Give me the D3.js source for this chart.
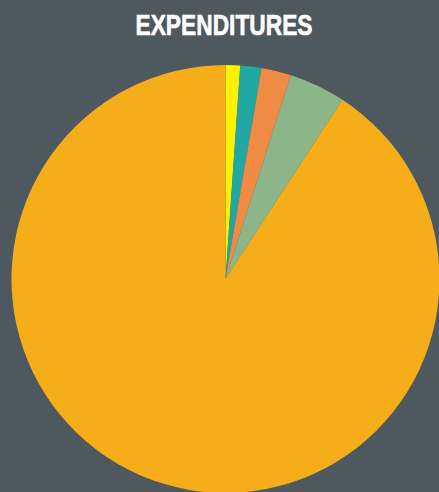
<!DOCTYPE html>
<html>
<head>
<meta charset="utf-8">
<script src="https://cdn.jsdelivr.net/npm/d3@7"></script>
<style>
  html, body { margin: 0; padding: 0; background: #4e585f; }
</style>
</head>
<body>
<div id="chart"></div>
<script>
/*------------------------------------------*/
/*            Data                          */
/*------------------------------------------*/

var categories = ["Yellow", "Teal", "Orange", "Green", "Main"],
    values = [1.1, 1.6, 2.25, 4.25, 90.8],
    colours = ["#fef100", "#22a8a2", "#f08b45", "#8cb58a", "#f5ae1a"];

var title = "EXPENDITURES";

/*------------------------------------------*/
/*            Constants                     */
/*------------------------------------------*/

var width = 439,
    height = 492,
    cx = 225.5,
    cy = 279,
    radius = 214;

/*------------------------------------------*/
/*            Initiate the SVG              */
/*------------------------------------------*/

var svg = d3.select("#chart").append("svg")
    .attr("width", width)
    .attr("height", height)
    .style("display", "block");

svg.append("rect")
    .attr("width", width)
    .attr("height", height)
    .attr("fill", "#4e585f");

// condensed look: squeeze a bold sans into the title's width
svg.append("text")
    .attr("x", 224)
    .attr("y", 34.5)
    .attr("text-anchor", "middle")
    .attr("font-family", "'Liberation Sans', Arial, sans-serif")
    .attr("font-weight", "bold")
    .attr("font-size", "29px")
    .attr("textLength", 177)
    .attr("lengthAdjust", "spacingAndGlyphs")
    .attr("fill", "#ffffff")
    .attr("stroke", "#ffffff")
    .attr("stroke-width", 0.6)
    .text(title);

/*------------------------------------------*/
/*            Pie                           */
/*------------------------------------------*/

var pie = d3.pie().sort(null).value(function(d) { return d.value; });

var arc = d3.arc().innerRadius(0).outerRadius(radius);

var data = categories.map(function(c, i) {
  return {name: c, value: values[i], colour: colours[i]};
});

svg.append("g")
    .attr("transform", "translate(" + cx + "," + cy + ")")
  .selectAll("path")
    .data(pie(data))
    .enter().append("path")
    .attr("d", arc)
    .attr("fill", function(d) { return d.data.colour; });
</script>
</body>
</html>
